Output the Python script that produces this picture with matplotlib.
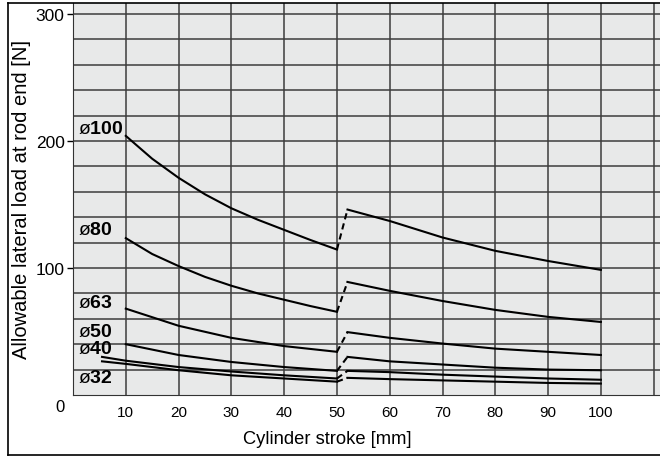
import matplotlib
matplotlib.use("Agg")
import matplotlib.pyplot as plt
from matplotlib.lines import Line2D

plt.rcParams["font.family"] = ["Liberation Sans", "DejaVu Sans"]
plt.rcParams["mathtext.fontset"] = "custom"
plt.rcParams["mathtext.bf"] = "Liberation Sans:bold"
plt.rcParams["mathtext.rm"] = "Liberation Sans"

# Cylinder stroke [mm] - before and after the 50 mm step
x_a = [10, 15, 20, 25, 30, 35, 40, 45, 50]
x_a_short = [10, 20, 30, 40, 50]
x_a_small = [5.5, 10, 20, 30, 40, 50]
x_b = [52, 60, 70, 80, 90, 100]

# Allowable lateral load [N] per bore size
d100_a = [204, 186, 171, 158, 147, 138, 130, 122, 114.5]
d100_b = [146, 137, 124, 113.5, 105.5, 98.5]
d80_a = [123.5, 111, 101.5, 93, 86, 80, 75, 70, 65.5]
d80_b = [89, 82, 74, 67, 61.5, 57.5]
d63_a = [68, 54.5, 45, 38.5, 34]
d63_b = [49.5, 45, 40.5, 36.5, 34, 31.5]
d50_a = [40, 31.5, 26, 22, 19]
d50_b = [30, 26.5, 24, 21.5, 20, 19.5]
d40_a = [30, 27, 22, 18.5, 15.5, 13]
d40_b = [19, 18, 16, 14.5, 13, 12]
d32_a = [26.5, 24.5, 19.5, 15.5, 13, 10.5]
d32_b = [13.5, 12.5, 11.5, 10.5, 9.5, 9]

bores = ["100", "80", "63", "50", "40", "32"]
label_y = [210, 130, 73, 50, 37, 14]

curves = [
    (x_a, d100_a, d100_b),
    (x_a, d80_a, d80_b),
    (x_a_short, d63_a, d63_b),
    (x_a_short, d50_a, d50_b),
    (x_a_small, d40_a, d40_b),
    (x_a_small, d32_a, d32_b),
]

fig = plt.figure(figsize=(6.6, 4.6), dpi=100)
ax = fig.add_axes([73 / 660, 64 / 460, 1 - 73 / 660, (396 - 3.5) / 460])
ax.set_facecolor("#e8e9e9")
ax.set_xlim(0, 111.2)
ax.set_ylim(0, 309)

# grid
for gx in range(10, 111, 10):
    ax.axvline(gx, color="#3c3c3c", lw=1.1, zorder=1)
for gy in range(20, 301, 20):
    ax.axhline(gy, color="#3c3c3c", lw=1.1, zorder=1)

# curves
for xa, ya, yb in curves:
    ax.plot(xa, ya, color="black", lw=1.5, zorder=3)
    ax.plot(x_b, yb, color="black", lw=1.5, zorder=3)
    ax.plot([xa[-1], x_b[0]], [ya[-1], yb[0]], color="black", lw=1.5,
            dashes=(3, 2), zorder=3)

for name, ly in zip(bores, label_y):
    ax.text(0.9, ly, "ø$\\mathbf{" + name + "}$", fontsize=14,
            ha="left", va="center", zorder=4)

ax.set_xticks(range(10, 101, 10))
ax.set_xticklabels([str(v) for v in range(10, 101, 10)], fontsize=11)
ax.set_yticks([100, 200, 300])
ax.set_yticklabels(["100", "200", "300"], fontsize=12.5)
ax.tick_params(axis="x", length=0, pad=7)
ax.tick_params(axis="y", length=4, width=1, pad=2)
ax.text(-1.5, -3, "0", fontsize=12, ha="right", va="top")

for s in ["top", "right"]:
    ax.spines[s].set_visible(False)
ax.spines["left"].set_color("#333333")
ax.spines["bottom"].set_color("#333333")

ax.set_ylabel("Allowable lateral load at rod end [N]", fontsize=14.5,
              labelpad=3)
fig.text(327 / 660, 20 / 460, "Cylinder stroke [mm]", fontsize=13.2,
         ha="center", va="center")

# outer frame
top = (460 - 3.5) / 460
bot = 4 / 460
lft = 8 / 660
for xs, ys in [([lft, 1.0], [top, top]), ([lft, 1.0], [bot, bot]),
               ([lft, lft], [bot, top])]:
    fig.add_artist(Line2D(xs, ys, color="black", lw=1.2,
                          transform=fig.transFigure))

fig.savefig("out.png", dpi=100)
